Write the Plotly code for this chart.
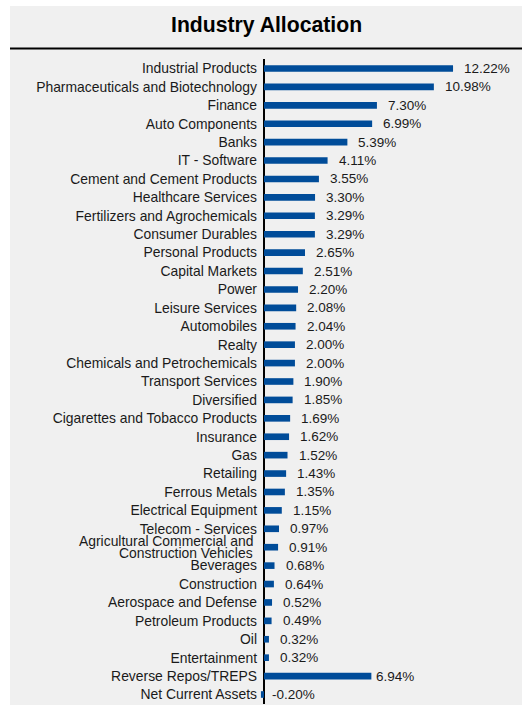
import plotly.graph_objects as go

# Industry allocation (% of net assets), top to bottom
industries = [
    "Industrial Products", "Pharmaceuticals and Biotechnology", "Finance",
    "Auto Components", "Banks", "IT - Software", "Cement and Cement Products",
    "Healthcare Services", "Fertilizers and Agrochemicals", "Consumer Durables",
    "Personal Products", "Capital Markets", "Power", "Leisure Services",
    "Automobiles", "Realty", "Chemicals and Petrochemicals", "Transport Services",
    "Diversified", "Cigarettes and Tobacco Products", "Insurance", "Gas",
    "Retailing", "Ferrous Metals", "Electrical Equipment", "Telecom - Services",
    "Agricultural Commercial and Construction Vehicles", "Beverages",
    "Construction", "Aerospace and Defense", "Petroleum Products", "Oil",
    "Entertainment", "Reverse Repos/TREPS", "Net Current Assets",
]
weights = [
    12.22, 10.98, 7.30, 6.99, 5.39, 4.11, 3.55, 3.30, 3.29, 3.29,
    2.65, 2.51, 2.20, 2.08, 2.04, 2.00, 2.00, 1.90, 1.85, 1.69,
    1.62, 1.52, 1.43, 1.35, 1.15, 0.97, 0.91, 0.68, 0.64, 0.52,
    0.49, 0.32, 0.32, 6.94, -0.20,
]

BAR = "#004c99"
BG = "#f0f0f0"
TXT = "#1a1a1a"
FONT = "Liberation Sans, Arial, sans-serif"
W, H = 522, 705
L, R, T, B = 258, 0, 59, 1
CAT_SIZE = 13.9
VAL_SIZE = 13.5

two_line = {"Agricultural Commercial and Construction Vehicles":
            ("Agricultural Commercial and", "Construction Vehicles")}
tick_text = [" " if n in two_line else n for n in industries]

pw, ph = W - L - R, H - T - B


def px_x(x):
    return (x - L) / pw


def px_y(y):
    return (H - B - y) / ph


fig = go.Figure(go.Bar(
    x=weights, y=industries, orientation="h",
    marker=dict(color=BAR, line=dict(width=0)),
    width=0.36, hoverinfo="x+y",
))

annotations = []
# value labels to the right of each bar
for name, v in zip(industries, weights):
    shift = 3 if name == "Reverse Repos/TREPS" else (6 if v < 0 else 9)
    annotations.append(dict(
        x=max(v, 0), y=name, xref="x", yref="y", text=f"{v:.2f}%",
        showarrow=False, xanchor="left", yanchor="middle", xshift=shift,
        font=dict(family=FONT, size=VAL_SIZE, color=TXT),
    ))
# wrapped category label drawn as two tight lines
for name, (l1, l2) in two_line.items():
    for txt, ys in ((l1, 6.5), (l2, -6)):
        annotations.append(dict(
            x=0, y=name, xref="paper", yref="y", text=txt, showarrow=False,
            xanchor="right", yanchor="middle", xshift=-3, yshift=ys,
            font=dict(family=FONT, size=CAT_SIZE, color=TXT),
        ))
# title
annotations.append(dict(
    x=px_x((10 + W) / 2), y=px_y(25), xref="paper", yref="paper",
    text="<b>Industry Allocation</b>", showarrow=False,
    font=dict(family=FONT, size=21.2, color="#000000"),
    xanchor="center", yanchor="middle",
))

shapes = [
    # white frame on left and top edges
    dict(type="rect", xref="paper", yref="paper", x0=px_x(0), x1=px_x(10),
         y0=px_y(H), y1=px_y(0), fillcolor="white", line=dict(width=0),
         layer="below"),
    dict(type="rect", xref="paper", yref="paper", x0=px_x(0), x1=px_x(W),
         y0=px_y(6), y1=px_y(0), fillcolor="white", line=dict(width=0),
         layer="below"),
    # rule under the title
    dict(type="line", xref="paper", yref="paper", x0=px_x(10), x1=px_x(W),
         y0=px_y(48.5), y1=px_y(48.5), line=dict(color="#000000", width=2)),
]

zero_px = 264
scale = 15.47  # pixels per percentage point
fig.update_layout(
    width=W, height=H,
    margin=dict(l=L, r=R, t=T, b=B, pad=0),
    paper_bgcolor=BG, plot_bgcolor=BG,
    showlegend=False,
    annotations=annotations,
    shapes=shapes,
    xaxis=dict(
        range=[(L - zero_px) / scale, (W - R - zero_px) / scale],
        showgrid=False, showticklabels=False, ticks="",
        zeroline=True, zerolinecolor="#000000", zerolinewidth=2,
        showline=False, fixedrange=True,
    ),
    yaxis=dict(
        categoryorder="array", categoryarray=industries,
        tickmode="array", tickvals=industries, ticktext=tick_text,
        autorange="reversed", showgrid=False, ticks="", showline=False,
        tickfont=dict(family=FONT, size=CAT_SIZE, color=TXT),
        fixedrange=True,
    ),
)

fig.write_html("out.html")
